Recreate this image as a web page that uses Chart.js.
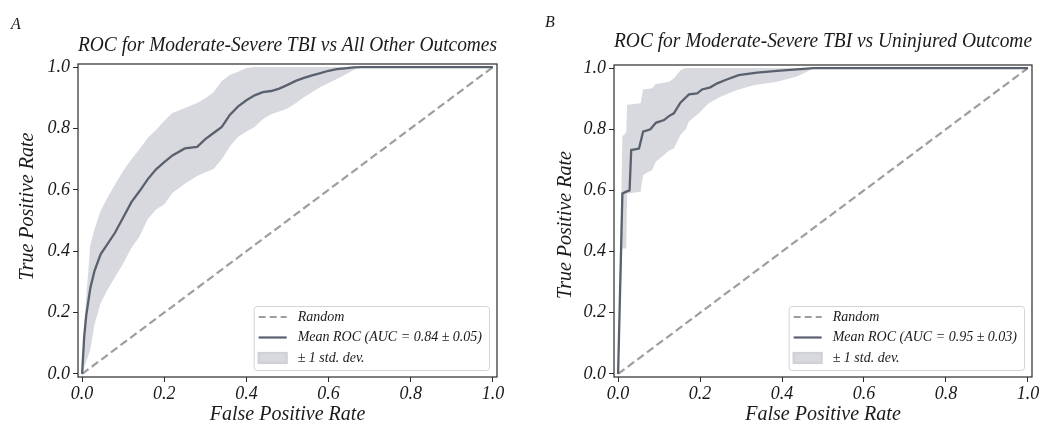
<!DOCTYPE html>
<html>
<head>
<meta charset="utf-8">
<script src="https://cdn.jsdelivr.net/npm/chart.js@4.4.1/dist/chart.umd.min.js"></script>
<style>
  body { margin: 0; background: #fff; width: 1043px; height: 425px; position: relative; overflow: hidden; font-family: "Liberation Serif", serif; }
  .panel { position: absolute; top: 0; height: 425px; }
  .tag { position: absolute; font-style: italic; font-size: 16px; line-height: 18px; color: #1a1a1a; }
</style>
</head>
<body>
<div class="panel" style="left:0;width:520px"><canvas id="chartA" width="520" height="425"></canvas></div>
<div class="panel" style="left:520px;width:523px"><canvas id="chartB" width="523" height="425"></canvas></div>
<div class="tag" style="left:11px;top:15px">A</div>
<div class="tag" style="left:545px;top:13px">B</div>
<script>
// axis ticks
const tickValues = [0, 0.2, 0.4, 0.6, 0.8, 1.0];
const tickLabels = ['0.0', '0.2', '0.4', '0.6', '0.8', '1.0'];

// chance line
const randomFpr = [0, 1];
const randomTpr = [0, 1];

// panel A: moderate-severe TBI vs all other outcomes
const aFpr = [0, 0.005, 0.01, 0.02, 0.03, 0.045, 0.06, 0.08, 0.1, 0.12, 0.14, 0.16, 0.18, 0.2, 0.22, 0.25, 0.28, 0.3, 0.32, 0.34,
              0.36, 0.38, 0.4, 0.42, 0.44, 0.46, 0.48, 0.5, 0.52, 0.54, 0.56, 0.58, 0.6, 0.62, 0.64, 0.66, 0.68, 1.0];
const aMean = [0, 0.12, 0.19, 0.28, 0.335, 0.39, 0.42, 0.46, 0.51, 0.56, 0.596, 0.635, 0.667, 0.69, 0.712, 0.735, 0.74, 0.765, 0.785, 0.805,
               0.845, 0.872, 0.892, 0.908, 0.918, 0.922, 0.93, 0.942, 0.955, 0.965, 0.973, 0.98, 0.988, 0.993, 0.996, 0.999, 1.0, 1.0];
const aUpper = [0, 0.16, 0.25, 0.42, 0.471, 0.532, 0.57, 0.617, 0.662, 0.70, 0.733, 0.77, 0.795, 0.825, 0.85, 0.867, 0.883, 0.898, 0.918, 0.955,
                0.975, 0.985, 0.997, 1, 1, 1, 1, 1, 1, 1, 1, 1, 1, 1, 1, 1, 1, 1];
const aLower = [0, 0.02, 0.04, 0.08, 0.16, 0.23, 0.27, 0.315, 0.36, 0.41, 0.449, 0.505, 0.536, 0.553, 0.59, 0.62, 0.645, 0.657, 0.668, 0.70,
                0.742, 0.773, 0.79, 0.805, 0.83, 0.846, 0.855, 0.865, 0.882, 0.902, 0.918, 0.935, 0.948, 0.961, 0.975, 0.99, 1.0, 1.0];

// panel B: moderate-severe TBI vs uninjured outcome
const bMeanFpr = [0, 0.0105, 0.02, 0.028, 0.032, 0.051, 0.061, 0.079, 0.092, 0.112, 0.124, 0.136, 0.152, 0.173, 0.193,
                  0.205, 0.225, 0.242, 0.262, 0.294, 0.339, 0.388, 0.436, 0.477, 1.0];
const bMean = [0, 0.59, 0.596, 0.60, 0.732, 0.737, 0.792, 0.80, 0.821, 0.83, 0.843, 0.852, 0.887, 0.914, 0.917,
               0.93, 0.937, 0.95, 0.961, 0.977, 0.985, 0.991, 0.996, 1.0, 1.0];
const bBandFpr = [0, 0.0105, 0.02, 0.022, 0.055, 0.061, 0.083, 0.092, 0.112, 0.124, 0.136, 0.152, 0.165, 0.173, 0.197,
                  0.221, 0.25, 0.29, 0.331, 0.388, 0.436, 0.461, 0.477, 1.0];
const bUpper = [0, 0.776, 0.79, 0.88, 0.885, 0.93, 0.934, 0.948, 0.952, 0.955, 0.966, 0.993, 1, 1, 1,
                1, 1, 1, 1, 1, 1, 1, 1, 1];
const bLower = [0, 0.41, 0.41, 0.59, 0.596, 0.65, 0.667, 0.694, 0.716, 0.73, 0.737, 0.781, 0.80, 0.825, 0.852,
                0.885, 0.906, 0.928, 0.944, 0.955, 0.972, 0.988, 1, 1];

const meanColor = '#59616f';
const randomColor = '#9e9e9e';
const bandColor = '#d7d9de';
const textColor = '#1a1a1a';
const serif = '"Liberation Serif", "Times New Roman", serif';

Chart.defaults.font.family = serif;
Chart.defaults.font.style = 'italic';
Chart.defaults.color = textColor;

function pairs(xs, ys) {
  return xs.map((x, i) => ({ x: x, y: ys[i] }));
}

// box round the plot area (all four sides)
const frame = {
  id: 'frame',
  afterDraw(chart) {
    const { ctx, chartArea: a } = chart;
    ctx.save();
    ctx.strokeStyle = '#2a2a2a';
    ctx.lineWidth = 1.2;
    ctx.strokeRect(a.left, a.top, a.right - a.left, a.bottom - a.top);
    ctx.restore();
  }
};

// rotated y title, placed like the original
const yTitle = {
  id: 'yTitle',
  afterDraw(chart, args, opts) {
    const { ctx, chartArea: a } = chart;
    ctx.save();
    ctx.translate(opts.x, (a.top + a.bottom) / 2 + opts.shift);
    ctx.rotate(-Math.PI / 2);
    ctx.font = 'italic 20px ' + serif;
    ctx.fillStyle = textColor;
    ctx.textAlign = 'center';
    ctx.textBaseline = 'middle';
    ctx.fillText(opts.text, 0, 0);
    ctx.restore();
  }
};

// matplotlib-like legend in the lower right corner
const rocLegend = {
  id: 'rocLegend',
  afterDatasetsDraw(chart) {
    const { ctx, chartArea: a } = chart;
    const ds = chart.data.datasets;
    const items = [
      { text: ds[1].label, kind: 'dash' },
      { text: ds[0].label, kind: 'line' },
      { text: ds[2].label, kind: 'patch' }
    ];
    ctx.save();
    ctx.font = 'italic 14px ' + serif;
    const textW = Math.max(...items.map(it => ctx.measureText(it.text).width));
    const w = 44 + textW + 7, h = 64;
    const x = a.right - 8 - w, y = a.bottom - 7 - h;
    ctx.beginPath();
    ctx.roundRect(x + 0.5, y + 0.5, w, h, 3);
    ctx.fillStyle = 'rgba(255,255,255,0.85)';
    ctx.fill();
    ctx.strokeStyle = '#d4d4d4';
    ctx.lineWidth = 1;
    ctx.stroke();
    items.forEach((it, i) => {
      const cy = y + 11 + i * 20.5;
      if (it.kind === 'patch') {
        ctx.fillStyle = bandColor;
        ctx.fillRect(x + 5, cy - 5, 28, 10);
        ctx.strokeStyle = '#cfd1d6';
        ctx.strokeRect(x + 5, cy - 5, 28, 10);
      } else {
        ctx.beginPath();
        ctx.setLineDash(it.kind === 'dash' ? [7, 4] : []);
        ctx.strokeStyle = it.kind === 'dash' ? randomColor : meanColor;
        ctx.lineWidth = 2.2;
        ctx.moveTo(x + 5, cy);
        ctx.lineTo(x + 33, cy);
        ctx.stroke();
        ctx.setLineDash([]);
      }
      ctx.fillStyle = textColor;
      ctx.textAlign = 'left';
      ctx.textBaseline = 'middle';
      ctx.fillText(it.text, x + 44, cy);
    });
    ctx.restore();
  }
};

function rocChart(id, p) {
  const tickFont = { size: 18, style: 'italic', family: serif };
  const axisBase = {
    type: 'linear',
    min: -0.01,
    max: 1.01,
    afterBuildTicks: s => { s.ticks = tickValues.map(v => ({ value: v })); },
    grid: { drawOnChartArea: false, drawTicks: true, tickLength: 5, color: '#2a2a2a', lineWidth: 1 },
    border: { display: false }
  };
  return new Chart(document.getElementById(id), {
    type: 'line',
    data: {
      datasets: [
        { label: p.meanLabel, data: pairs(p.meanFpr, p.mean), borderColor: meanColor, borderWidth: 2.3, pointRadius: 0, fill: false },
        { label: 'Random', data: pairs(randomFpr, randomTpr), borderColor: randomColor, borderWidth: 2.2, borderDash: [8, 4], pointRadius: 0, fill: false },
        { label: '± 1 std. dev.', data: pairs(p.bandFpr, p.upper), borderColor: 'transparent', borderWidth: 0, pointRadius: 0,
          fill: { target: 3, above: bandColor, below: bandColor } },
        { label: 'lower', data: pairs(p.bandFpr, p.lower), borderColor: 'transparent', borderWidth: 0, pointRadius: 0, fill: false }
      ]
    },
    options: {
      responsive: false,
      animation: false,
      parsing: false,
      elements: { line: { tension: 0 } },
      layout: { padding: { left: 0, right: p.padRight, top: 0, bottom: 0 } },
      plugins: {
        legend: { display: false },
        tooltip: { enabled: false },
        title: {
          display: true,
          fullSize: false,
          text: p.title,
          color: textColor,
          font: { size: 20, style: 'italic', family: serif, weight: 'normal', lineHeight: 1.2 },
          padding: p.titlePad
        },
        yTitle: p.yTitle
      },
      scales: {
        x: Object.assign({}, axisBase, {
          ticks: { callback: (v, i) => tickLabels[i], font: tickFont, color: textColor, padding: 1, maxRotation: 0, autoSkip: false },
          title: { display: true, text: 'False Positive Rate', color: textColor, font: { size: 20, style: 'italic', family: serif, lineHeight: 1 }, padding: 0 },
          afterFit: s => { s.height = 48; }
        }),
        y: Object.assign({}, axisBase, {
          ticks: { callback: (v, i) => tickLabels[i], font: tickFont, color: textColor, padding: 3, autoSkip: false },
          afterFit: s => { s.width = p.axisLeft; }
        })
      }
    },
    plugins: [frame, yTitle, rocLegend]
  });
}

rocChart('chartA', {
  title: 'ROC for Moderate-Severe TBI vs All Other Outcomes',
  meanLabel: 'Mean ROC (AUC = 0.84 ± 0.05)',
  meanFpr: aFpr, mean: aMean, bandFpr: aFpr, upper: aUpper, lower: aLower,
  padRight: 23, axisLeft: 78,
  titlePad: { top: 34, bottom: 6 },
  yTitle: { text: 'True Positive Rate', x: 28, shift: -14 }
});

rocChart('chartB', {
  title: 'ROC for Moderate-Severe TBI vs Uninjured Outcome',
  meanLabel: 'Mean ROC (AUC = 0.95 ± 0.03)',
  meanFpr: bMeanFpr, mean: bMean, bandFpr: bBandFpr, upper: bUpper, lower: bLower,
  padRight: 11, axisLeft: 94,
  titlePad: { top: 30, bottom: 11 },
  yTitle: { text: 'True Positive Rate', x: 46, shift: 4 }
});
</script>
</body>
</html>
